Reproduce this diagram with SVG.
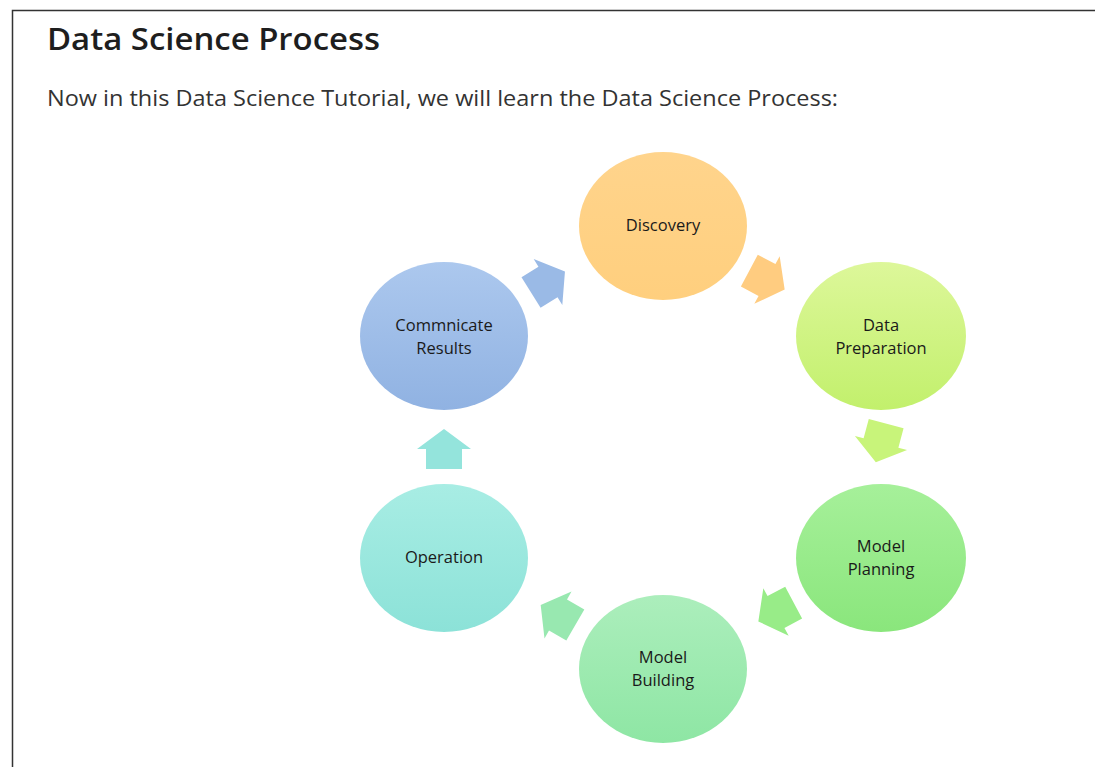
<svg xmlns="http://www.w3.org/2000/svg" width="1095" height="767" viewBox="0 0 1095 767">
<style>
.title{font-family:"Open Sans","Liberation Sans",sans-serif;font-weight:600;font-size:31px;fill:#1e1e1e}
.sub{font-family:"Open Sans","Liberation Sans",sans-serif;font-size:21px;fill:#333}
.lbl{font-family:"Open Sans","Liberation Sans",sans-serif;font-size:16.5px;font-weight:500;fill:#1a1a1a;text-anchor:middle}
</style>
<defs>
<linearGradient id="gD" x1="0" y1="0" x2="0" y2="1"><stop offset="0" stop-color="#FFD48C"/><stop offset="1" stop-color="#FFCF7E"/></linearGradient>
<linearGradient id="gP" x1="0" y1="0" x2="0" y2="1"><stop offset="0" stop-color="#DDF79A"/><stop offset="1" stop-color="#C2F06C"/></linearGradient>
<linearGradient id="gM" x1="0" y1="0" x2="0" y2="1"><stop offset="0" stop-color="#A6F09A"/><stop offset="1" stop-color="#8AE67C"/></linearGradient>
<linearGradient id="gB" x1="0" y1="0" x2="0" y2="1"><stop offset="0" stop-color="#ACEEBC"/><stop offset="1" stop-color="#8EE6A4"/></linearGradient>
<linearGradient id="gO" x1="0" y1="0" x2="0" y2="1"><stop offset="0" stop-color="#A8EDE4"/><stop offset="1" stop-color="#8CE2D8"/></linearGradient>
<linearGradient id="gC" x1="0" y1="0" x2="0" y2="1"><stop offset="0" stop-color="#ACC8EE"/><stop offset="1" stop-color="#90B2E2"/></linearGradient>
<path id="arr" d="M-20,-18 L0,-18 L0,-27 L20,0 L0,27 L0,18 L-20,18 Z"/>
</defs>
<rect width="1095" height="767" fill="#fff"/>
<path d="M12.5,767 V10.5 H1095" fill="none" stroke="#333" stroke-width="1.5"/>
<text class="title" x="47" y="50" textLength="333" lengthAdjust="spacingAndGlyphs">Data Science Process</text>
<text class="sub" x="47" y="106" textLength="791" lengthAdjust="spacingAndGlyphs">Now in this Data Science Tutorial, we will learn the Data Science Process:</text>
<g id="connectors">
<use href="#arr" fill="#9ABAE6" transform="translate(548,282) rotate(-32)"/>
<use href="#arr" fill="#FFCC80" transform="translate(767,280) rotate(28)"/>
<use href="#arr" fill="#C8F47A" transform="translate(881,443) rotate(105)"/>
<use href="#arr" fill="#98EC88" transform="translate(776,612) rotate(152)"/>
<use href="#arr" fill="#98E8B0" transform="translate(558,615) rotate(-150)"/>
<use href="#arr" fill="#94E4DC" transform="translate(444,449) rotate(-90)"/>
</g>
<g id="discovery">
<ellipse cx="663" cy="226" rx="84" ry="74" fill="url(#gD)"/>
<text class="lbl" x="663" y="231">Discovery</text>
</g>
<g id="data-preparation">
<ellipse cx="881" cy="336" rx="85" ry="74" fill="url(#gP)"/>
<text class="lbl" x="881" y="331">Data</text>
<text class="lbl" x="881" y="354">Preparation</text>
</g>
<g id="model-planning">
<ellipse cx="881" cy="558" rx="85" ry="74" fill="url(#gM)"/>
<text class="lbl" x="881" y="552">Model</text>
<text class="lbl" x="881" y="575">Planning</text>
</g>
<g id="model-building">
<ellipse cx="663" cy="669" rx="84" ry="74" fill="url(#gB)"/>
<text class="lbl" x="663" y="663">Model</text>
<text class="lbl" x="663" y="686">Building</text>
</g>
<g id="operation">
<ellipse cx="444" cy="558" rx="84" ry="74" fill="url(#gO)"/>
<text class="lbl" x="444" y="563">Operation</text>
</g>
<g id="communicate-results">
<ellipse cx="444" cy="336" rx="84" ry="74" fill="url(#gC)"/>
<text class="lbl" x="444" y="331">Commnicate</text>
<text class="lbl" x="444" y="354">Results</text>
</g>
</svg>
